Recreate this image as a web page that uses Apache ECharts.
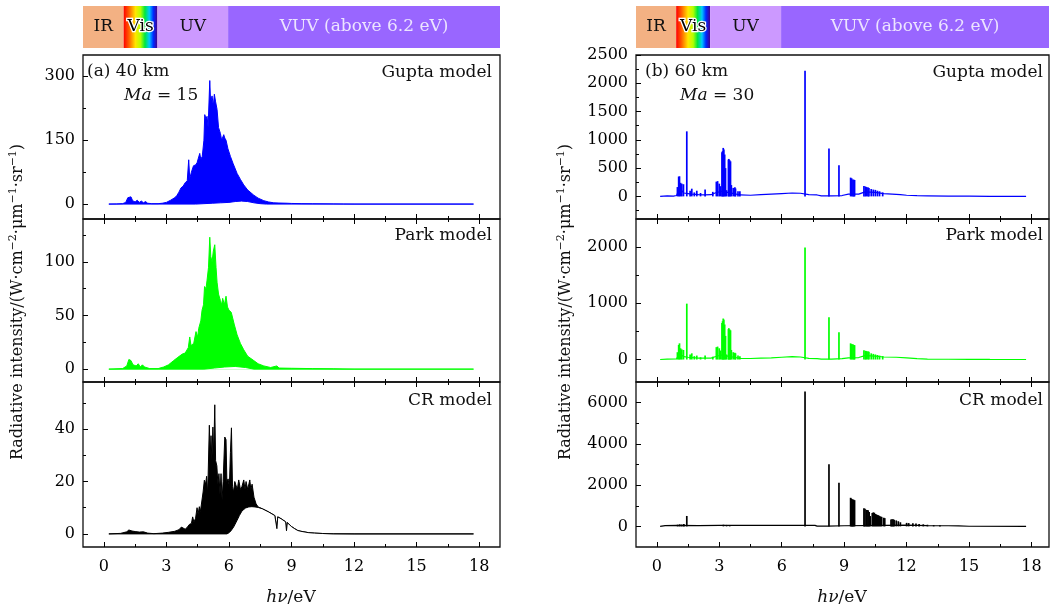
<!DOCTYPE html>
<html>
<head>
<meta charset="utf-8">
<script src="https://cdn.jsdelivr.net/npm/echarts@6/dist/echarts.min.js"></script>
<style>
html,body{margin:0;padding:0;background:#fff}
#c{width:1051px;height:609px}
</style>
</head>
<body>
<div id="c"></div>
<script>
const FONT = 'DejaVu Serif';

// photon energy axis (eV)
const xMajor = [0, 3, 6, 9, 12, 15, 18];
const xMinor = [1.5, 4.5, 7.5, 10.5, 13.5, 16.5];

// spectral regions across the top of each column
const bandNames = ['IR', 'Vis', 'UV', 'VUV (above 6.2 eV)'];
const bandEdgesA = [-1, 0.95, 2.57, 5.96, 19];
const bandEdgesB = [-1, 0.93, 2.56, 5.97, 18.84];

// intensity axes per panel (Gupta, Park, CR)
const yRangeA = [[-35, 350], [-12, 140], [-5, 58]];
const yTicksA = [[0, 150, 300], [0, 50, 100], [0, 20, 40]];
const yMinorA = [[75, 225], [25, 75, 125], [10, 30, 50]];
const yRangeB = [[-400, 2500], [-400, 2500], [-1000, 7000]];
const yTicksB = [[0, 500, 1000, 1500, 2000, 2500], [0, 1000, 2000], [0, 2000, 4000, 6000]];
const yMinorB = [[-250, 250, 750, 1250, 1750, 2250], [500, 1500], [1000, 3000, 5000]];

// (a) 40 km, Ma = 15: upper / lower envelopes of the dense spectra [eV, W·cm-2·µm-1·sr-1]
const aGuptaUpper = [[0.24,0],[0.6,0.3],[0.9,1],[1.05,4],[1.15,15],[1.22,19],[1.3,17],[1.38,8],[1.5,5],[1.6,9],[1.7,4],[1.8,7],[1.9,3],[2.0,6],[2.1,2],[2.3,1],[2.6,1],[2.8,2],[3.0,4],[3.2,9],[3.4,15],[3.5,20],[3.6,28],[3.7,38],[3.8,42],[3.9,50],[4.0,55],[4.07,104],[4.12,60],[4.2,75],[4.3,90],[4.4,92],[4.47,97],[4.55,100],[4.6,119],[4.65,105],[4.72,112],[4.8,150],[4.84,210],[4.9,200],[4.95,206],[5.0,180],[5.08,290],[5.12,240],[5.19,254],[5.25,230],[5.3,258],[5.36,240],[5.43,222],[5.5,180],[5.59,166],[5.65,150],[5.75,163],[5.8,155],[5.86,150],[5.95,130],[6.07,112],[6.2,95],[6.39,72],[6.55,58],[6.71,45],[6.9,33],[7.19,21],[7.4,14],[7.67,8],[7.9,5],[8.15,3],[8.4,2.5],[8.79,2],[9.0,1.5],[9.5,1],[10,0.8],[11,0.5],[11.5,0.2],[12,0],[17.73,0]];
const aGuptaLower = [[0.24,0],[4.4,0],[4.8,1],[5.2,2],[5.6,3],[6.0,4],[6.3,6],[6.6,7],[6.9,6],[7.2,3],[7.5,1],[7.8,0],[17.73,0]];

const aParkUpper = [[0.24,0],[0.9,0.5],[1.1,3],[1.2,9],[1.3,8],[1.4,4],[1.55,3],[1.65,5],[1.75,2],[1.85,4],[1.95,2],[2.2,0.5],[2.6,0.5],[2.87,2],[3.1,4],[3.35,8],[3.55,11],[3.76,14],[3.9,15],[4.05,20],[4.12,30],[4.18,22],[4.31,24],[4.42,35],[4.5,30],[4.55,38],[4.65,45],[4.71,55],[4.78,60],[4.83,77],[4.9,75],[4.95,83],[5.02,95],[5.08,123],[5.13,105],[5.19,100],[5.25,110],[5.32,116],[5.38,95],[5.43,81],[5.5,70],[5.59,64],[5.65,60],[5.7,66],[5.78,60],[5.86,68],[5.93,58],[6.0,55],[6.11,53],[6.25,42],[6.39,32],[6.55,24],[6.71,18],[6.9,12],[7.19,8],[7.4,5],[7.67,3],[8.0,1.5],[8.3,3],[8.4,1],[9,0.8],[10,0.5],[11,0.3],[12,0],[17.73,0]];
const aParkLower = [[0.24,0],[4.8,0],[5.3,1],[5.8,2],[6.3,2.5],[6.8,1.5],[7.2,0],[17.73,0]];

const aCrUpper = [[0.24,0],[0.8,0.2],[1.1,0.8],[1.2,1.5],[1.28,1.8],[1.35,1.1],[1.5,0.9],[1.7,0.7],[1.9,0.8],[2.1,0.3],[2.4,0.1],[2.8,0.3],[3.1,0.6],[3.4,1.0],[3.6,1.6],[3.72,2.6],[3.8,2.2],[3.9,1.8],[4.0,2.5],[4.1,3.6],[4.2,4.0],[4.26,6.5],[4.32,4.5],[4.4,6.0],[4.47,10.0],[4.52,7.5],[4.58,10.4],[4.63,8.5],[4.7,9.0],[4.76,16],[4.82,20.5],[4.88,19],[4.93,22],[4.98,15],[5.06,41.5],[5.1,30],[5.14,37.5],[5.18,28],[5.23,40.8],[5.27,30],[5.32,49.3],[5.36,28],[5.42,26],[5.47,19],[5.52,23],[5.57,15],[5.62,23],[5.67,13],[5.72,20],[5.8,37],[5.86,36],[5.9,20],[5.96,21],[6.02,18],[6.07,31],[6.12,40.5],[6.17,18],[6.22,16],[6.28,20],[6.34,20.6],[6.4,17],[6.47,20.6],[6.55,17],[6.62,18],[6.71,20.6],[6.77,17],[6.82,20],[6.9,17],[7.0,20.6],[7.05,17],[7.11,19],[7.2,14],[7.3,11.5],[7.4,10.3],[7.6,9.6],[7.9,8.4],[8.2,7.0],[8.26,6.8],[8.3,2.0],[8.34,6.5],[8.5,5.8],[8.72,4.6],[8.76,1.2],[8.8,4.3],[9.0,2.8],[9.15,2.0],[9.3,1.3],[9.45,1.0],[9.8,0.5],[10.1,0.3],[10.5,0.15],[11,0.05],[12,0],[17.73,0]];
const aCrLower = [[0.24,0],[5.9,0],[6.0,0.4],[6.1,1.2],[6.23,2.7],[6.39,5.2],[6.5,7.0],[6.63,8.8],[6.8,9.9],[6.95,10.3],[7.1,10.4],[7.25,10.3],[7.4,10.1],[7.6,9.6],[7.9,8.4],[8.2,7.0],[8.26,6.8],[8.3,2.0],[8.34,6.5],[8.5,5.8],[8.72,4.6],[8.76,1.2],[8.8,4.3],[9.0,2.8],[9.15,2.0],[9.3,1.3],[9.45,1.0],[9.8,0.5],[10.1,0.3],[10.5,0.15],[11,0.05],[12,0],[17.73,0]];

// (b) 60 km, Ma = 30: continuum and atomic lines [eV, W·cm-2·µm-1·sr-1]
const bGuptaCont = [[0.16,0],[0.5,8],[0.8,5],[0.95,15],[1.0,60],[1.1,120],[1.2,100],[1.3,60],[1.5,50],[1.7,40],[2.0,30],[2.3,25],[2.6,30],[2.8,60],[3.1,90],[3.4,70],[3.7,50],[4.0,25],[4.5,20],[5.0,30],[5.5,40],[6.0,50],[6.5,60],[6.9,55],[7.3,30],[7.7,25],[7.9,8],[8.4,8],[8.9,15],[9.2,40],[9.7,40],[10.0,80],[10.5,70],[10.9,50],[11.3,40],[11.7,30],[12.0,20],[12.5,12],[13.0,10],[14.0,6],[15.0,3],[16,1],[17.74,0]];
const bGuptaLines = [[0.99,165],[1.05,350],[1.09,355],[1.14,240],[1.2,225],[1.28,215],[1.44,1150],[1.6,100],[1.68,136],[1.8,70],[1.92,100],[2.1,60],[2.32,120],[2.69,80],[2.86,260],[2.92,270],[3.0,225],[3.06,180],[3.13,780],[3.16,800],[3.19,857],[3.22,830],[3.26,740],[3.3,500],[3.35,110],[3.44,650],[3.46,662],[3.5,640],[3.54,620],[3.58,200],[3.67,150],[3.75,160],[3.78,140],[3.9,90],[3.99,90],[7.12,2220],[8.27,846],[8.75,550],[9.31,332],[9.36,320],[9.42,300],[9.47,295],[9.5,290],[9.95,183],[10.02,175],[10.06,165],[10.14,160],[10.19,150],[10.3,130],[10.4,120],[10.5,115],[10.6,100],[10.7,90],[10.85,70]];

const bParkCont = [[0.16,0],[0.5,8],[0.95,12],[1.0,50],[1.1,100],[1.3,50],[1.5,40],[2.0,25],[2.6,25],[2.8,50],[3.1,80],[3.4,60],[3.7,40],[4.0,20],[4.5,18],[5.0,25],[5.5,30],[6.0,40],[6.5,50],[6.9,45],[7.3,20],[7.7,15],[7.9,8],[8.4,8],[8.9,15],[9.2,30],[9.7,35],[10.0,70],[10.5,60],[10.9,45],[11.5,40],[12.0,30],[12.5,15],[13,8],[14,5],[15,3],[16,1],[17.74,0]];
const bParkLines = [[0.99,130],[1.05,260],[1.09,288],[1.14,200],[1.2,180],[1.28,170],[1.44,994],[1.6,90],[1.68,110],[1.8,60],[1.92,70],[2.1,40],[2.32,70],[2.69,50],[2.86,220],[2.92,230],[3.0,200],[3.06,160],[3.13,650],[3.16,682],[3.19,729],[3.22,710],[3.26,623],[3.3,420],[3.35,90],[3.44,540],[3.46,558],[3.5,535],[3.54,520],[3.58,170],[3.67,130],[3.75,120],[3.78,110],[3.9,70],[3.99,60],[7.12,1995],[8.27,752],[8.75,487],[9.31,288],[9.36,275],[9.42,270],[9.47,260],[9.5,255],[9.95,164],[10.02,155],[10.06,150],[10.14,145],[10.19,140],[10.3,110],[10.4,100],[10.5,90],[10.6,80],[10.7,70],[10.85,60]];

const bCrCont = [[0.16,0],[0.4,40],[1.0,50],[2.0,40],[3.0,50],[4.0,45],[5.0,45],[6.0,50],[7.0,50],[7.6,50],[7.7,10],[8.2,10],[9.0,30],[11,50],[12,60],[13,40],[14,30],[14.5,20],[15,5],[17.74,0]];
const bCrLines = [[1.0,80],[1.1,100],[1.2,90],[1.3,110],[1.44,505],[3.2,80],[3.35,70],[3.5,60],[7.12,6536],[8.27,3015],[8.75,2120],[9.31,1386],[9.34,1350],[9.38,1320],[9.42,1300],[9.46,1290],[9.5,1270],[9.95,880],[10.0,850],[10.06,800],[10.1,790],[10.15,780],[10.2,700],[10.25,500],[10.35,650],[10.4,680],[10.45,660],[10.5,600],[10.55,580],[10.6,550],[10.65,540],[10.7,500],[10.75,480],[10.8,460],[10.9,420],[10.95,400],[11.25,330],[11.3,350],[11.35,340],[11.4,320],[11.5,290],[11.6,250],[11.7,200],[12.0,170],[12.1,160],[12.3,150],[12.45,140],[12.6,120],[12.8,100],[13.0,80],[13.3,60],[13.6,50]];

const modelNames = ['Gupta model', 'Park model', 'CR model'];
const modelColors = ['#0000ff', '#00ff00', '#000000'];

// ---------------------------------------------------------------
const chart = echarts.init(document.getElementById('c'), null, { renderer: 'canvas' });

const colLeft = [83, 636];
const colWidth = [417, 413];
const colXMax = [19, 18.84];
const rowTop = [55, 219, 382];
const rowH = [164, 163, 165];

const grids = [], xAxes = [], yAxes = [], series = [], graphics = [];
const plain = v => String(v);

function xAx(grid, max, pos, values, len, label) {
  return {
    type: 'value', gridIndex: grid, min: -1, max: max, position: pos,
    axisLine: { show: false, onZero: false }, splitLine: { show: false },
    axisTick: { show: true, inside: true, length: len, customValues: values, lineStyle: { color: '#000', width: 1 } },
    axisLabel: label ? { show: true, customValues: values, formatter: plain, color: '#000', fontFamily: FONT, fontSize: 16, margin: 12 } : { show: false }
  };
}
function yAx(grid, range, values, len, label) {
  return {
    type: 'value', gridIndex: grid, min: range[0], max: range[1], position: 'left',
    axisLine: { show: false, onZero: false }, splitLine: { show: false },
    axisTick: { show: true, inside: true, length: len, customValues: values, lineStyle: { color: '#000', width: 1 } },
    axisLabel: label ? { show: true, customValues: values, formatter: plain, color: '#000', fontFamily: FONT, fontSize: 16, margin: 8 } : { show: false }
  };
}

const yRanges = [yRangeA, yRangeB], yTicks = [yTicksA, yTicksB], yMinors = [yMinorA, yMinorB];
const panelAxis = [];

for (let c = 0; c < 2; c++) {
  for (let r = 0; r < 3; r++) {
    const g = grids.length;
    grids.push({
      left: colLeft[c], top: rowTop[r], width: colWidth[c], height: rowH[r],
      show: true, borderColor: '#111', borderWidth: 1.3, backgroundColor: 'transparent',
      containLabel: false, outerBoundsMode: 'none'
    });
    const xi = xAxes.length;
    xAxes.push(xAx(g, colXMax[c], 'bottom', xMajor, 5, r === 2));
    xAxes.push(xAx(g, colXMax[c], 'bottom', xMinor, 3, false));
    if (r > 0) {
      xAxes.push(xAx(g, colXMax[c], 'top', xMajor, 5, false));
      xAxes.push(xAx(g, colXMax[c], 'top', xMinor, 3, false));
    }
    const yi = yAxes.length;
    yAxes.push(yAx(g, yRanges[c][r], yTicks[c][r], 5, true));
    yAxes.push(yAx(g, yRanges[c][r], yMinors[c][r], 3, false));
    panelAxis.push({ x: xi, y: yi });
  }
}

// dense spectra of column (a): filled upper envelope, hollowed below the lower envelope
const aSets = [[aGuptaUpper, aGuptaLower], [aParkUpper, aParkLower], [aCrUpper, aCrLower]];
aSets.forEach((s, r) => {
  const ax = panelAxis[r];
  series.push({
    type: 'line', xAxisIndex: ax.x, yAxisIndex: ax.y, data: s[0], symbol: 'none', z: 2,
    lineStyle: { width: 1, color: modelColors[r] }, areaStyle: { color: modelColors[r], opacity: 1 }
  });
  series.push({
    type: 'line', xAxisIndex: ax.x, yAxisIndex: ax.y, data: s[1], symbol: 'none', z: 3,
    lineStyle: { width: 1, color: modelColors[r] }, areaStyle: { color: '#ffffff', opacity: 1 }
  });
});

// line spectra of column (b): continuum plus narrow atomic lines
const bSets = [[bGuptaCont, bGuptaLines], [bParkCont, bParkLines], [bCrCont, bCrLines]];
bSets.forEach((s, r) => {
  const ax = panelAxis[3 + r];
  series.push({
    type: 'line', xAxisIndex: ax.x, yAxisIndex: ax.y, data: s[0], symbol: 'none', z: 2,
    lineStyle: { width: 1.2, color: modelColors[r] }
  });
  series.push({
    type: 'bar', xAxisIndex: ax.x, yAxisIndex: ax.y, data: s[1], barWidth: 1.7, z: 2,
    itemStyle: { color: modelColors[r] }
  });
});

// spectral-region band above each column
const bandColors = [
  '#f3b183',
  new echarts.graphic.LinearGradient(0, 0, 1, 0, [
    { offset: 0, color: '#ff0000' }, { offset: 0.15, color: '#ff5a00' },
    { offset: 0.35, color: '#ffe600' }, { offset: 0.5, color: '#b4ff00' },
    { offset: 0.63, color: '#00e640' }, { offset: 0.76, color: '#00c8ff' },
    { offset: 0.88, color: '#0028ff' }, { offset: 1, color: '#46008c' }
  ]),
  '#cc99ff',
  '#9966ff'
];
const bandText = [
  { color: '#111' },
  { color: '#000', textBorderColor: '#fff', textBorderWidth: 2.5 },
  { color: '#111' },
  { color: '#ece4ff' }
];
[bandEdgesA, bandEdgesB].forEach((edges, c) => {
  const g = grids.length;
  grids.push({ left: colLeft[c], top: 6, width: colWidth[c], height: 42, show: false, outerBoundsMode: 'none' });
  const xi = xAxes.length, yi = yAxes.length;
  xAxes.push({ type: 'value', gridIndex: g, min: -1, max: colXMax[c], show: false });
  yAxes.push({ type: 'value', gridIndex: g, min: 0, max: 1, show: false });
  const areas = bandNames.map((name, k) => [
    {
      xAxis: edges[k], yAxis: 0, name: name,
      itemStyle: { color: bandColors[k], opacity: 1, borderWidth: 0 },
      label: Object.assign({ show: true, position: 'inside', formatter: name, fontFamily: FONT, fontSize: 17 }, bandText[k])
    },
    { xAxis: edges[k + 1], yAxis: 1 }
  ]);
  series.push({
    type: 'line', xAxisIndex: xi, yAxisIndex: yi, data: [[0, 0.5]], symbol: 'none',
    lineStyle: { opacity: 0 }, silent: true,
    markArea: { silent: true, data: areas }
  });
});

// panel annotations
const txt = (x, y, text, opt) => Object.assign({
  type: 'text', x: x, y: y, silent: true,
  style: Object.assign({ text: text, fontFamily: FONT, fontSize: 17, fill: '#111', align: 'left', verticalAlign: 'middle' }, opt || {})
});
const maRich = { i: { fontFamily: FONT, fontSize: 17, fontStyle: 'italic', fill: '#111' } };
graphics.push(txt(87, 72, '(a) 40 km'));
graphics.push(txt(124, 96, '{i|Ma} = 15', { rich: maRich }));
graphics.push(txt(645, 72, '(b) 60 km'));
graphics.push(txt(680, 96, '{i|Ma} = 30', { rich: maRich }));
const modelY = [73, 236, 401];
[492, 1043].forEach(xr => {
  modelNames.forEach((m, r) => graphics.push(txt(xr, modelY[r], m, { align: 'right' })));
});

// axis titles
const yTitle = 'Radiative intensity/(W·cm{s|−2}·μm{s|−1}·sr{s|−1})';
const yRich = { s: { fontFamily: FONT, fontSize: 11, verticalAlign: 'top', lineHeight: 10, fill: '#111' } };
[18, 566].forEach(x => graphics.push({
  type: 'text', x: x, y: 302, rotation: Math.PI / 2, silent: true,
  style: { text: yTitle, rich: yRich, fontFamily: FONT, fontSize: 16, lineHeight: 20, fill: '#111', align: 'center', verticalAlign: 'middle' }
}));
const xRich = { i: { fontFamily: FONT, fontSize: 17, fontStyle: 'italic', fill: '#111' }, n: { fontFamily: FONT, fontSize: 17, fill: '#111' } };
[291, 842].forEach(x => graphics.push({
  type: 'text', x: x, y: 598, silent: true,
  style: { text: '{i|hν}{n|/eV}', rich: xRich, fontFamily: FONT, fontSize: 17, fill: '#111', align: 'center', verticalAlign: 'middle' }
}));

chart.setOption({
  animation: false,
  backgroundColor: '#ffffff',
  grid: grids,
  xAxis: xAxes,
  yAxis: yAxes,
  series: series,
  graphic: graphics
});
</script>
</body>
</html>
